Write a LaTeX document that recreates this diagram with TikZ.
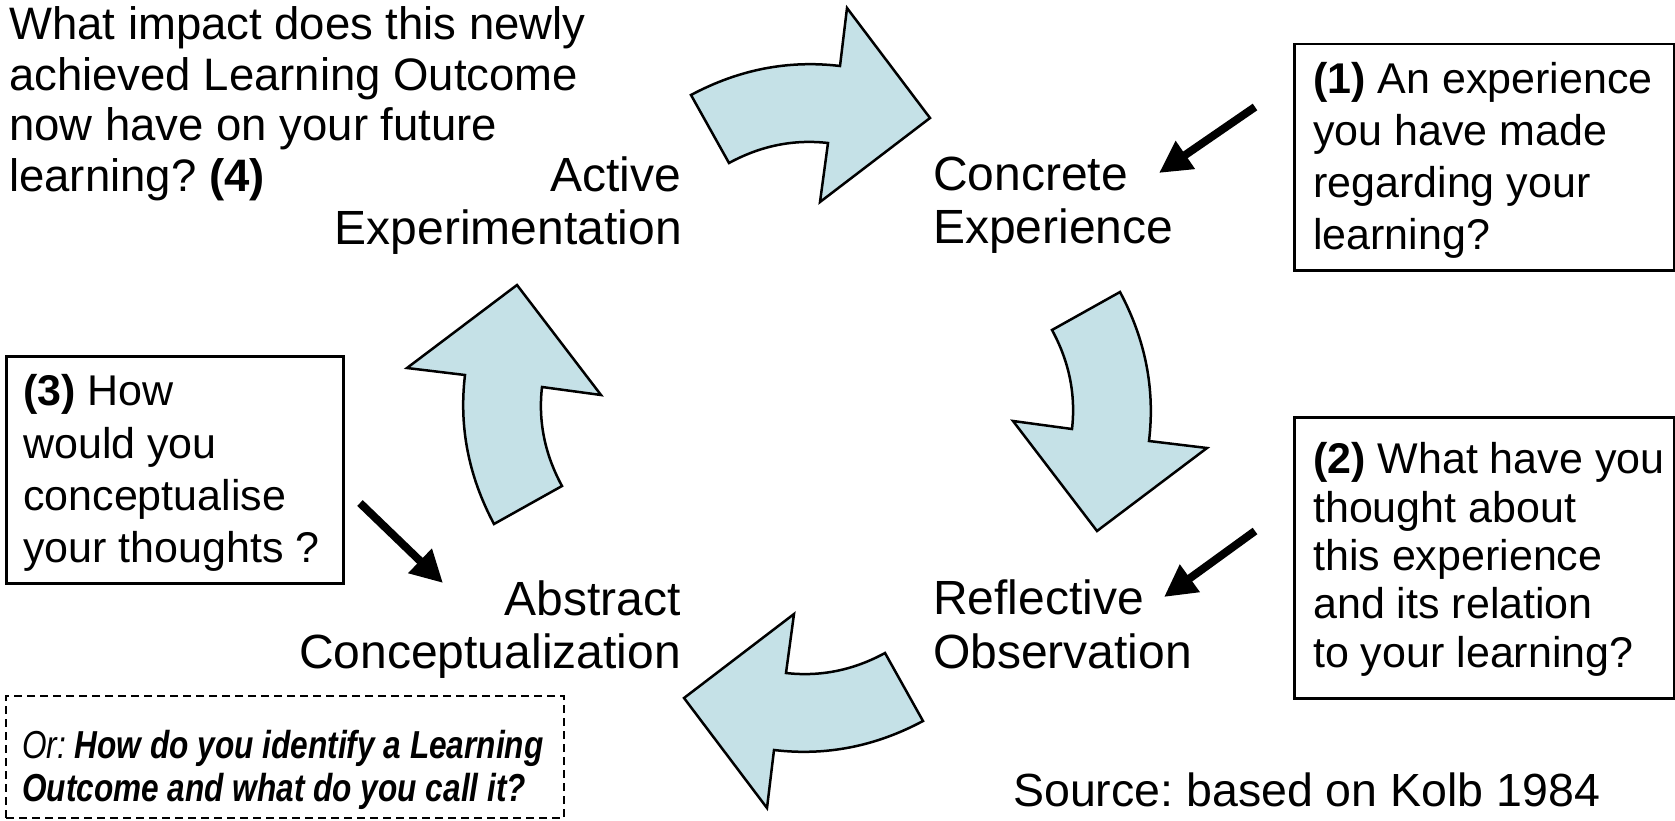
\documentclass[tikz,border=0pt]{standalone}
\usepackage{fontspec}
\setmainfont{Liberation Sans}
\usepackage{graphicx}
\usetikzlibrary{arrows.meta}
\definecolor{arrowfill}{RGB}{197,225,231}
\frenchspacing
\begin{document}
\begin{tikzpicture}[x=1pt,y=-1pt,
  cyc/.style={draw=black, line width=2.5pt, fill=arrowfill, line join=miter},
  lab/.style={inner sep=0pt, font=\fontsize{48}{52}\selectfont},
  labw/.style={lab, anchor=base west},
  labe/.style={lab, anchor=base east},
  qtxt/.style={inner sep=0pt, font=\fontsize{43}{50}\selectfont, anchor=base west},
  ttxt/.style={inner sep=0pt, font=\fontsize{45.5}{50}\selectfont, anchor=base west},
  qbox/.style={draw=black, line width=2.5pt, inner sep=0pt, anchor=north west},
  dbox/.style={draw=black, line width=2pt, dash pattern=on 8pt off 5pt, inner sep=0pt, anchor=north west},
  ntxt/.style={inner sep=0pt, anchor=base west},
  blk/.style={draw=black, line width=8pt, -{Triangle[length=32pt,width=32pt]}}
]
\useasboundingbox (0,0) rectangle (1675,821);

% four curved cycle arrows (one shape rotated about the centre)
\foreach \r in {0,-90,-180,-270}{
  \begin{scope}[shift={(807,408)},rotate=\r]
    \draw[cyc] (-116,-313) .. controls (-68.3,-338.5) and (-18.7,-348.2) .. (33,-342)
      -- (40,-400) -- (123,-290) -- (13,-206) -- (21,-265)
      .. controls (-13.2,-268.9) and (-46.2,-262.3) .. (-78,-245) -- cycle;
  \end{scope}
}

% top-left question
\node[ttxt] (t1) at (9,40) {What impact does this newly};
\node[ttxt] (t2) at (9,91) {achieved Learning Outcome};
\node[ttxt] (t3) at (9,141) {now have on your future};
\node[ttxt] (t4) at (9,192) {learning? \textbf{(4)}};

% stage labels
\node[labe] (ae1) at (681,192) {Active};
\node[labe] (ae2) at (682,244) {Experimentation};
\node[labw] (ce1) at (933,190) {Concrete};
\node[labw] (ce2) at (933,243) {Experience};
\node[labw] (ro1) at (933,614) {Reflective};
\node[labw] (ro2) at (933,668) {Observation};
\node[labe] (ac1) at (681,615) {Abstract};
\node[labe] (ac2) at (681,668) {Conceptualization};

% box 1
\node[qbox, minimum width=380pt, minimum height=226pt] (box1) at (1293,43) {};
\node[qtxt] (b1a) at (1313,94) {\textbf{(1)} An experience};
\node[qtxt] (b1b) at (1313,146) {you have made};
\node[qtxt] (b1c) at (1313,197) {regarding your};
\node[qtxt] (b1d) at (1313,249) {learning?};

% box 2
\node[qbox, minimum width=380pt, minimum height=281pt] (box2) at (1293,416) {};
\node[qtxt] (b2a) at (1313,473) {\textbf{(2)} What have you};
\node[qtxt] (b2b) at (1313,522) {thought about};
\node[qtxt] (b2c) at (1313,570) {this experience};
\node[qtxt] (b2d) at (1313,618) {and its relation};
\node[qtxt] (b2e) at (1313,667) {to your learning?};

% box 3
\node[qbox, minimum width=337pt, minimum height=227pt] (box3) at (5,355) {};
\node[qtxt] (b3a) at (23,405) {\textbf{(3)} How};
\node[qtxt] (b3b) at (23,458) {would you};
\node[qtxt] (b3c) at (23,510) {conceptualise};
\node[qtxt] (b3d) at (23,562) {your thoughts ?};

% dashed box
\node[dbox, minimum width=558pt, minimum height=122pt] (box4) at (5,695) {};
\node[ntxt] (b4a) at (22,758) {\scalebox{0.81}[1]{\fontsize{39}{40}\selectfont\itshape Or: \bfseries How do you identify a Learning}};
\node[ntxt] (b4b) at (22,801) {\scalebox{0.81}[1]{\fontsize{39}{40}\selectfont\itshape\bfseries Outcome and what do you call it?}};

% source
\node[ntxt, font=\fontsize{46.5}{50}\selectfont] (src) at (1013,806) {Source: based on Kolb 1984};

% pointer arrows
\coordinate (p1s) at (1255,107);
\coordinate (p1e) at (1159,173);
\coordinate (p2s) at (1255,531);
\coordinate (p2e) at (1164,597);
\coordinate (p3s) at (360,503);
\coordinate (p3e) at (443,583);
\draw[blk] (p1s) -- (p1e);
\draw[blk] (p2s) -- (p2e);
\draw[blk] (p3s) -- (p3e);
\end{tikzpicture}
\end{document}
